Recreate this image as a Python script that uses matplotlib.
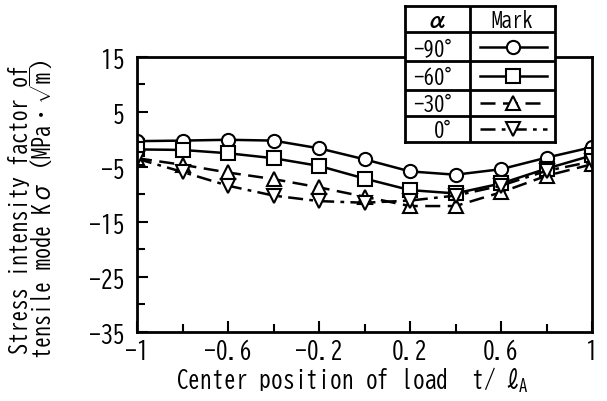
import numpy as np
import matplotlib
matplotlib.use('Agg')
import matplotlib.pyplot as plt

plt.rcParams['font.family'] = ['BIZ UDGothic', 'DejaVu Sans']
plt.rcParams['mathtext.fontset'] = 'custom'
plt.rcParams['mathtext.rm'] = 'BIZ UDGothic'
plt.rcParams['mathtext.it'] = 'BIZ UDGothic'
plt.rcParams['mathtext.bf'] = 'BIZ UDGothic:bold'

# data
t = [-1, -0.8, -0.6, -0.4, -0.2, 0, 0.2, 0.4, 0.6, 0.8, 1]
k_m90 = [-0.3, -0.2, -0.05, -0.2, -1.6, -3.6, -5.8, -6.4, -5.4, -3.3, -1.4]
k_m60 = [-1.8, -1.9, -2.5, -3.4, -4.8, -7.1, -9.2, -9.8, -8.0, -5.3, -2.9]
k_m30 = [-3.4, -4.6, -6.0, -7.2, -8.7, -10.4, -12.1, -12.1, -9.6, -6.6, -4.5]
k_0 = [-3.5, -5.9, -8.4, -10.2, -11.2, -11.5, -11.1, -10.2, -8.4, -5.7, -4.0]

alpha_labels = ['-90°', '-60°', '-30°', '0°']
series = [k_m90, k_m60, k_m30, k_0]
markers = ['o', 's', '^', 'v']
styles = ['-', '-', (0, (6, 3)), (0, (6, 2.5, 1.5, 2.5))]

xtick_pos = [-1, -0.6, -0.2, 0.2, 0.6, 1]
xtick_lab = ['-1', '-0.6', '-0.2', '0.2', '0.6', '1']
ytick_pos = [15, 5, -5, -15, -25, -35]
ytick_lab = ['15', '5', '-5', '-15', '-25', '-35']

fig = plt.figure(figsize=(6.07, 4.02), dpi=100)
ax = fig.add_axes([137/607, 1-333/402, 455/607, 275/402])

for ys, mk, ls in zip(series, markers, styles):
    ax.plot(t, ys, color='black', lw=1.8, linestyle=ls, marker=mk, ms=9.5,
            mfc='white', mec='black', mew=1.5)

ax.set_xlim(-1, 1)
ax.set_ylim(-35, 15)
ax.set_xticks(xtick_pos)
ax.set_xticklabels(xtick_lab, fontsize=17)
ax.set_xticks(np.arange(-0.8, 0.9, 0.4), minor=True)
ax.set_yticks(ytick_pos)
ax.set_yticklabels(ytick_lab, fontsize=17)
ax.set_yticks(np.arange(-30, 11, 10), minor=True)
ax.tick_params(which='major', direction='in', length=8, width=1.5, top=False, right=False)
ax.tick_params(which='minor', direction='in', length=6, width=1.5, top=False, right=False)
ax.tick_params(axis='x', which='major', pad=4)
ax.tick_params(axis='y', which='major', pad=9)
for sp in ax.spines.values():
    sp.set_linewidth(2)

ax.set_xlabel('Center position of load  t/ $\\ell_{\\rm A}$', fontsize=17)
ax.xaxis.set_label_coords(0.473, -0.12)
ax.set_ylabel('Stress intensity factor of\ntensile mode Kσ (MPa・$\\sqrt{\\rm m}$)',
              fontsize=16, linespacing=0.9)
ax.yaxis.set_label_coords(-0.18, 0.45)

# legend drawn as a table
lg = fig.add_axes([405/607, 1-143/402, 150/607, 136/402])
lg.set_xlim(0, 150)
lg.set_ylim(136, 0)
lg.set_xticks([])
lg.set_yticks([])
lg.set_facecolor('white')
for sp in lg.spines.values():
    sp.set_linewidth(2)
rows = [0, 26, 55, 84, 110, 136]
lg.axvline(65, color='black', lw=2)
for r in rows[1:-1]:
    lg.axhline(r, color='black', lw=2)
lg.text(32, 13, 'α', ha='center', va='center', fontsize=14, fontweight='bold', style='italic')
lg.text(107, 13, 'Mark', ha='center', va='center', fontsize=15)
for i, (lab, mk, ls) in enumerate(zip(alpha_labels, markers, styles)):
    yc = (rows[i+1] + rows[i+2]) / 2
    lg.text(60, yc, lab, ha='right', va='center', fontsize=15)
    lg.plot([75, 142], [yc, yc], color='black', lw=1.8, linestyle=ls)
    lg.plot([108], [yc], color='black', marker=mk, ms=9.5, mfc='white', mec='black', mew=1.5)

fig.savefig('out.png', dpi=100)
